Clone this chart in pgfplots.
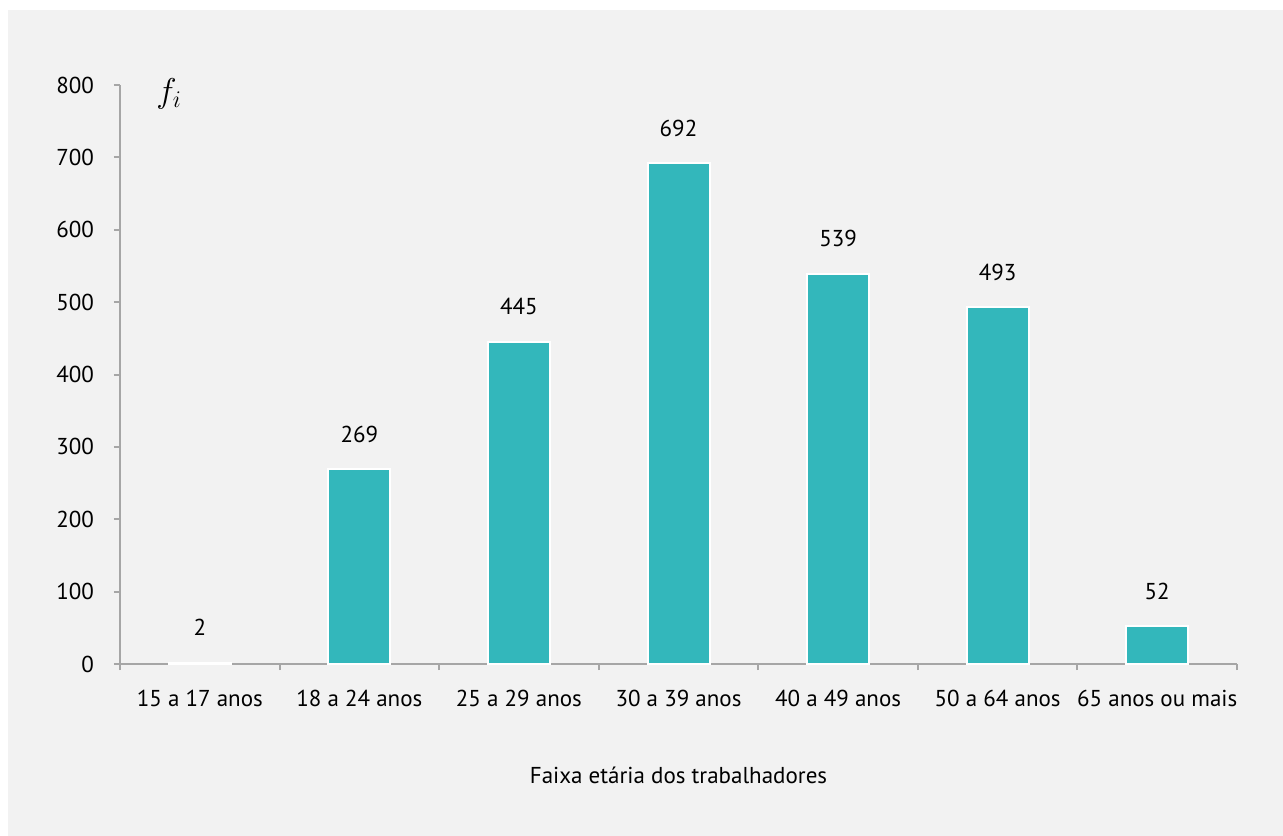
\documentclass[border=0pt]{standalone}
\usepackage{fontspec}
\setmainfont{PT Sans}
\usepackage{pgfplots}
\pgfplotsset{compat=1.18}
\definecolor{bg}{HTML}{F2F2F2}
\definecolor{teal}{HTML}{33B7BB}
\definecolor{axgray}{HTML}{A6A6A6}
\begin{document}
\fontsize{11.5bp}{13bp}\selectfont
\begin{tikzpicture}
\useasboundingbox (-60bp,-86bp) rectangle (581.5bp,332bp);
\fill[white] (-60bp,-86bp) rectangle (581.5bp,332bp);
\fill[bg] (-56bp,-86bp) rectangle (581.5bp,327bp);
\begin{axis}[
  at={(0,0)}, anchor=south west,
  scale only axis, width=558.5bp, height=289.5bp,
  xmin=-0.5, xmax=6.5, ymin=0, ymax=800,
  axis lines=left, axis line style={-, draw=axgray, line width=1bp},
  ytick={0,100,...,800},
  xtick={0,...,6},
  xticklabels={15 a 17 anos, 18 a 24 anos, 25 a 29 anos, 30 a 39 anos, 40 a 49 anos, 50 a 64 anos, 65 anos ou mais},
  minor xtick={-0.5,0.5,...,6.5},
  tick align=outside,
  major x tick style={draw=none},
  major tick length=3bp, minor tick length=3bp,
  tick style={draw=axgray, line width=1bp},
  /pgf/number format/assume math mode=true,
  ticklabel style={font=\fontsize{11.5bp}{13bp}\selectfont, text=black},
  yticklabel style={xshift=-6bp},
  xticklabel style={yshift=-6bp},
  ybar, bar width=31bp,
  nodes near coords,
  every node near coord/.append style={anchor=center, yshift=17.5bp, font=\fontsize{11.5bp}{13bp}\selectfont, text=black},
  clip=false,
]
\addplot[fill=teal, draw=white, line width=1bp] coordinates {(0,2) (1,269) (2,445) (3,692) (4,539) (5,493) (6,52)};
\node at (rel axis cs:0.044,0.985) {\fontsize{17bp}{20bp}\selectfont $f_i$};
\node[font=\fontsize{11.5bp}{13bp}\selectfont] at (rel axis cs:0.5,0) [yshift=-55.5bp] {Faixa etária dos trabalhadores};
\end{axis}
\end{tikzpicture}
\end{document}
